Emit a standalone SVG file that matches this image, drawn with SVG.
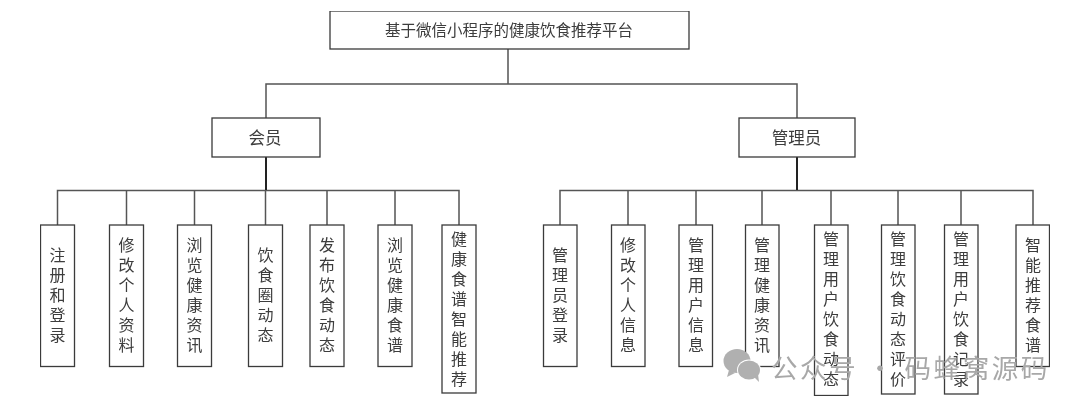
<svg xmlns="http://www.w3.org/2000/svg" width="1080" height="410" viewBox="0 0 1080 410">
<style>
.n{fill:#fff;stroke:#3a3a3a;stroke-width:1.3}
.c{fill:none;stroke:#555;stroke-width:1.5}
.t{stroke:#222;stroke-width:2;fill:none}
text{font-family:"Noto Sans CJK SC","Noto Sans",sans-serif;fill:#3c3c3c;font-size:15.500px;text-anchor:middle}
.v{writing-mode:vertical-rl;text-orientation:upright;letter-spacing:3.900px;font-size:16px}
.l{font-size:16.500px}
.w{fill:#a8a8a8;font-size:26.500px;letter-spacing:2.600px;text-anchor:start}
.b{fill:#b0b0b0}
</style>
<defs><filter id="s" x="0" y="0" width="100%" height="100%"><feGaussianBlur stdDeviation="0.5"/></filter></defs>
<rect width="1080" height="410" fill="#fff"/>
<g filter="url(#s)">
<g id="connectors">
<path class="c" d="M508 49V84M266 118V84H797V118"/>
<path class="c" d="M57.500 225V190.500H459V225M126.500 190.500V225M194.500 190.500V225M265.500 190.500V225M327 190.500V225M395 190.500V225"/>
<path class="c" d="M560 225V190.500H1033V225M628 190.500V225M696 190.500V225M762 190.500V225M831 190.500V225M898 190.500V225M961 190.500V225"/>
<path class="t" d="M266 157V190"/>
<path class="t" d="M797 157V190"/>
</g>
<g id="root"><rect class="n" x="330" y="11" width="359" height="38"/><text x="509" y="36">基于微信小程序的健康饮食推荐平台</text></g>
<g id="member"><rect class="n" x="212" y="118" width="108" height="39"/><text class="l" x="265" y="144">会员</text></g>
<g id="admin"><rect class="n" x="739" y="118" width="116" height="39"/><text class="l" x="796.500" y="144">管理员</text></g>
<g id="m1"><rect class="n" x="40.500" y="225" width="34" height="141.500"/><text class="v" x="57.500" y="297">注册和登录</text></g>
<g id="m2"><rect class="n" x="109.500" y="225" width="34" height="141.500"/><text class="v" x="126.500" y="297">修改个人资料</text></g>
<g id="m3"><rect class="n" x="177.500" y="225" width="34" height="141.500"/><text class="v" x="194.500" y="297">浏览健康资讯</text></g>
<g id="m4"><rect class="n" x="248.500" y="225" width="34" height="141.500"/><text class="v" x="265.500" y="297">饮食圈动态</text></g>
<g id="m5"><rect class="n" x="310" y="225" width="34" height="141.500"/><text class="v" x="327" y="297">发布饮食动态</text></g>
<g id="m6"><rect class="n" x="378" y="225" width="34" height="141.500"/><text class="v" x="395" y="297">浏览健康食谱</text></g>
<g id="m7"><rect class="n" x="442" y="225" width="34" height="168"/><text class="v" x="459" y="311">健康食谱智能推荐</text></g>
<g id="a1"><rect class="n" x="543.500" y="225" width="33.500" height="141.500"/><text class="v" x="560" y="297">管理员登录</text></g>
<g id="a2"><rect class="n" x="611.500" y="225" width="33.500" height="141.500"/><text class="v" x="628" y="297">修改个人信息</text></g>
<g id="a3"><rect class="n" x="679" y="225" width="33.500" height="141.500"/><text class="v" x="696" y="297">管理用户信息</text></g>
<g id="a4"><rect class="n" x="745.500" y="225" width="33.500" height="141.500"/><text class="v" x="762" y="297">管理健康资讯</text></g>
<g id="a5"><rect class="n" x="814.500" y="225" width="33.500" height="170.500"/><text class="v" x="831" y="311">管理用户饮食动态</text></g>
<g id="a6"><rect class="n" x="881.500" y="225" width="33.500" height="169"/><text class="v" x="898" y="311">管理饮食动态评价</text></g>
<g id="a7"><rect class="n" x="944.500" y="225" width="33.500" height="169"/><text class="v" x="961" y="311">管理用户饮食记录</text></g>
<g id="a8"><rect class="n" x="1016" y="225" width="33.500" height="141.500"/><text class="v" x="1033" y="297">智能推荐食谱</text></g>
<g id="watermark">
<ellipse class="b" cx="737" cy="361" rx="13.500" ry="12"/><path class="b" d="M729 370l-2 7 8-4z"/>
<ellipse cx="749" cy="370" rx="12" ry="10.500" fill="#fff"/>
<ellipse class="b" cx="749" cy="370" rx="11" ry="9.500"/><path class="b" d="M754 377l5 5-1-8z"/>
<text class="w" x="771" y="378">公众号 · 码蜂窝源码</text>
</g>
</g>
</svg>
